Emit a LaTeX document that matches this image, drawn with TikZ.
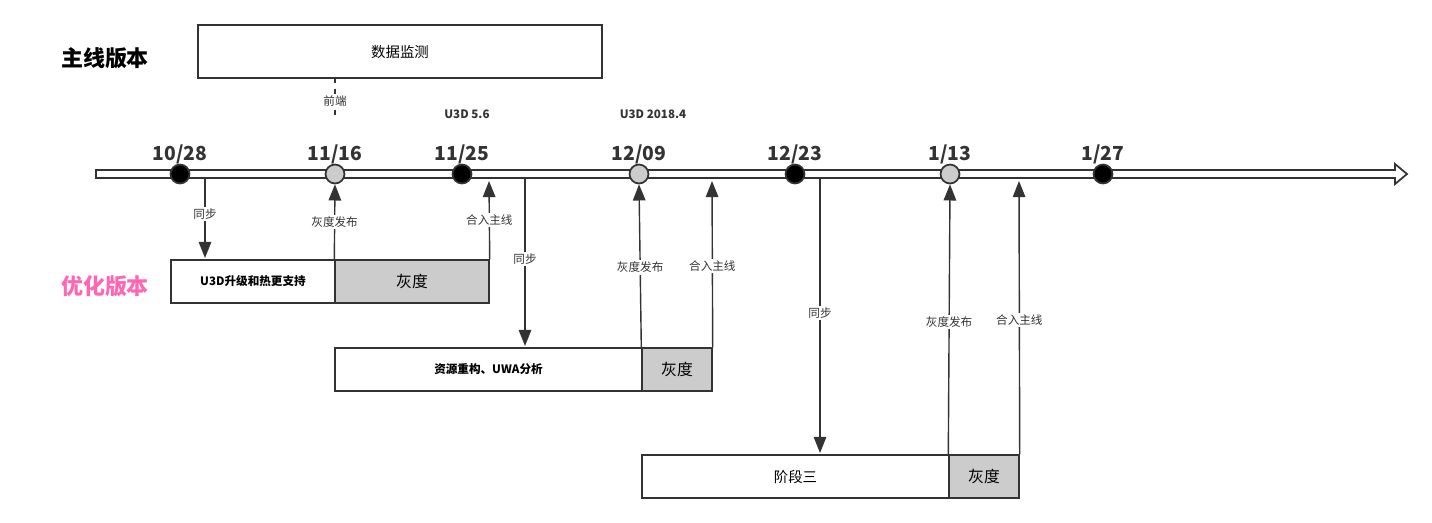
\documentclass[tikz,border=0pt]{standalone}
\usepackage{fontspec}
\setmainfont{Noto Sans CJK SC}
\usetikzlibrary{arrows.meta}
\definecolor{lgray}{HTML}{CCCCCC}
\definecolor{dline}{HTML}{333333}
\definecolor{pinkt}{HTML}{FF66B3}
\tikzset{
  dot/.style={circle, draw=dline, line width=1pt, minimum size=19pt*0.567, inner sep=0pt},
  datelbl/.style={font=\bfseries\fontsize{11}{12}\selectfont, text=dline},
  flow/.style={draw=dline, line width=0.8pt, -{Triangle[length=9pt*0.567*1.8, width=9pt*0.567*1.4]}},
  lbl/.style={fill=white, inner sep=1pt, font=\fontsize{6.6}{7}\selectfont, text=dline},
  plain/.style={draw=dline, line width=0.8pt, inner sep=0pt},
}
\begin{document}
\begin{tikzpicture}[x=0.02cm, y=-0.02cm]
	    \useasboundingbox (0,0) rectangle (1432,522);
	    
	    % Headings
	    \node[font=\bfseries\fontsize{12.5}{14}\selectfont] (main) at (105,58) {主线版本};
	    \node[font=\bfseries\fontsize{12.5}{14}\selectfont, text=pinkt] (opt) at (105,286) {优化版本};
	    
	    % Monitoring box
	    \draw[plain] (198,25) rectangle (602,78);
	    \node[font=\fontsize{8.2}{9}\selectfont] (mon) at (400,52) {数据监测};
	    \coordinate (fe) at (335,120);
	    \draw[dline, line width=0.8pt, dashed] (335,78) -- (fe);
	    \node[lbl] (feL) at (335,101) {前端};
	    
	    % Versions
	    \node[font=\bfseries\fontsize{6.6}{7}\selectfont, text=dline] (v56) at (467,114) {U3D 5.6};
	    \node[font=\bfseries\fontsize{6.6}{7}\selectfont, text=dline] (v2018) at (653,114) {U3D 2018.4};
	    
	    % Timeline
	    \draw[dline, line width=1pt, fill=white] (96,170) -- (1395,170) -- (1395,164) -- (1407,174)
	      -- (1395,184) -- (1395,178) -- (96,178) -- cycle;
	    
	    % Dates
	    \foreach \x/\d/\c/\n in {180/10\slash 28/black/a, 335/11\slash 16/lgray/b, 462/11\slash 25/black/c,
	                             639/12\slash 09/lgray/d, 795/12\slash 23/black/e, 950/1\slash 13/lgray/f,
	                             1103/1\slash 27/black/g}{
	      \node[dot, fill=\c] (\n) at (\x,174) {};
	      \node[datelbl] (\n L) at (\x,154) {\d};
	    }
	    
	    % Branch 1
	    \node[plain, minimum width=164*0.02cm, minimum height=43*0.02cm, font=\bfseries\fontsize{6.6}{7}\selectfont] (b1) at (253,281.5) {U3D升级和热更支持};
	    \node[plain, fill=lgray, minimum width=154*0.02cm, minimum height=43*0.02cm, font=\fontsize{9}{10}\selectfont] (g1) at (412,281.5) {灰度};
	    
	    % Branch 2
	    \node[plain, minimum width=307*0.02cm, minimum height=43*0.02cm, font=\bfseries\fontsize{6.6}{7}\selectfont] (b2) at (488.5,369.5) {资源重构、UWA分析};
	    \node[plain, fill=lgray, minimum width=70*0.02cm, minimum height=43*0.02cm, font=\fontsize{9}{10}\selectfont] (g2) at (677,369.5) {灰度};
	    
	    % Branch 3
	    \node[plain, minimum width=307*0.02cm, minimum height=43*0.02cm, font=\fontsize{8.2}{9}\selectfont] (b3) at (795.5,476.5) {阶段三};
	    \node[plain, fill=lgray, minimum width=70*0.02cm, minimum height=43*0.02cm, font=\fontsize{9}{10}\selectfont] (g3) at (984,476.5) {灰度};
	    
	    % Sync points
	    \coordinate (s1) at (205,178); \coordinate (t1) at (205,258);
	    \coordinate (s2) at (525,178); \coordinate (t2) at (525,346);
	    \coordinate (s3) at (820,178); \coordinate (t3) at (820,453);
	    \coordinate (m1) at (489,181); \coordinate (m2) at (712,181); \coordinate (m3) at (1019,181);
	    
	    % Connectors
	    \draw[flow] (s1) -- node[lbl, pos=0.45] {同步} (t1);
	    \draw[flow] (g1.north west) -- node[lbl, pos=0.5] {灰度发布} (b.south);
	    \draw[flow] (g1.north east) -- node[lbl, pos=0.5] {合入主线} (m1);
	    \draw[flow] (s2) -- node[lbl, pos=0.48] {同步} (t2);
	    \draw[flow] (g2.north west) -- node[lbl, pos=0.49] {灰度发布} (d.south);
	    \draw[flow] (g2.north east) -- node[lbl, pos=0.49] {合入主线} (m2);
	    \draw[flow] (s3) -- node[lbl, pos=0.49] {同步} (t3);
	    \draw[flow] (g3.north west) -- node[lbl, pos=0.49] {灰度发布} (f.south);
	    \draw[flow] (g3.north east) -- node[lbl, pos=0.49] {合入主线} (m3);
	    
	    \end{tikzpicture}
\end{document}
